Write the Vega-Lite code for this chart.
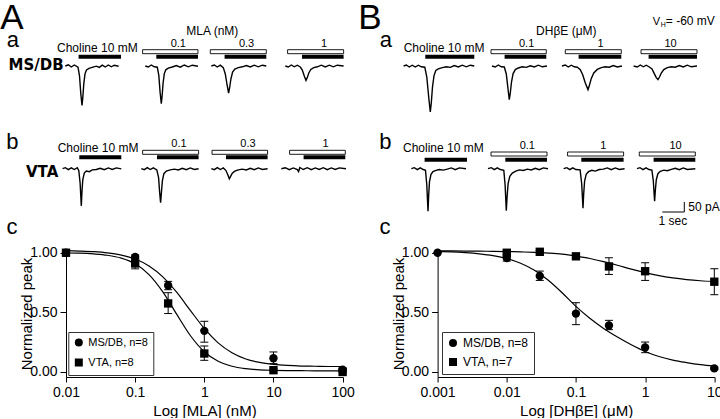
{
"$schema":"https://vega.github.io/schema/vega-lite/v6.json",
"padding":0,
"background":"white",
"config":{"view":{"stroke":null},"text":{"font":"Liberation Sans","color":"black","baseline":"alphabetic"},
"axis":{"domainColor":"black","tickColor":"black","labelColor":"black","titleColor":"black","grid":false,"labelFont":"Liberation Sans","titleFont":"Liberation Sans","labelFontSize":14,"titleFontSize":15,"titleFontWeight":"normal","tickSize":5}},
"resolve":{"scale":{"shape":"independent"},"legend":{"shape":"independent"}},
"datasets":{
"tAa":[{"tr":1,"t":2.955,"i":0},{"tr":1,"t":3.091,"i":6},{"tr":1,"t":3.227,"i":-5},{"tr":1,"t":3.364,"i":5},{"tr":1,"t":3.532,"i":-6},{"tr":1,"t":3.6,"i":-49},{"tr":1,"t":3.659,"i":-138},{"tr":1,"t":3.714,"i":-197},{"tr":1,"t":3.75,"i":-158},{"tr":1,"t":3.795,"i":-89},{"tr":1,"t":3.85,"i":-39},{"tr":1,"t":3.918,"i":-20},{"tr":1,"t":4.032,"i":-12},{"tr":1,"t":4.214,"i":-6},{"tr":1,"t":4.364,"i":-1},{"tr":1,"t":4.5,"i":-7},{"tr":1,"t":4.636,"i":4},{"tr":1,"t":4.773,"i":-5},{"tr":1,"t":4.909,"i":5},{"tr":1,"t":5.045,"i":-4},{"tr":1,"t":5.182,"i":4},{"tr":1,"t":5.377,"i":-1},
{"tr":2,"t":6.591,"i":0},{"tr":2,"t":6.727,"i":-5},{"tr":2,"t":6.864,"i":5},{"tr":2,"t":7.0,"i":-4},{"tr":2,"t":7.136,"i":-6},{"tr":2,"t":7.205,"i":-47},{"tr":2,"t":7.264,"i":-132},{"tr":2,"t":7.318,"i":-188},{"tr":2,"t":7.355,"i":-150},{"tr":2,"t":7.4,"i":-85},{"tr":2,"t":7.455,"i":-38},{"tr":2,"t":7.523,"i":-19},{"tr":2,"t":7.636,"i":-11},{"tr":2,"t":7.818,"i":-5},{"tr":2,"t":8.0,"i":2},{"tr":2,"t":8.182,"i":-6},{"tr":2,"t":8.364,"i":5},{"tr":2,"t":8.545,"i":-4},{"tr":2,"t":8.727,"i":4},{"tr":2,"t":8.986,"i":-1},
{"tr":3,"t":9.591,"i":0},{"tr":3,"t":9.727,"i":5},{"tr":3,"t":9.864,"i":-5},{"tr":3,"t":10.0,"i":4},{"tr":3,"t":10.136,"i":-8},{"tr":3,"t":10.227,"i":-40},{"tr":3,"t":10.309,"i":-95},{"tr":3,"t":10.377,"i":-135},{"tr":3,"t":10.423,"i":-110},{"tr":3,"t":10.482,"i":-65},{"tr":3,"t":10.559,"i":-30},{"tr":3,"t":10.659,"i":-15},{"tr":3,"t":10.818,"i":-8},{"tr":3,"t":11.0,"i":-4},{"tr":3,"t":11.182,"i":2},{"tr":3,"t":11.364,"i":-5},{"tr":3,"t":11.545,"i":4},{"tr":3,"t":11.727,"i":-4},{"tr":3,"t":11.909,"i":4},{"tr":3,"t":12.091,"i":0},
{"tr":4,"t":12.955,"i":0},{"tr":4,"t":13.091,"i":-5},{"tr":4,"t":13.227,"i":5},{"tr":4,"t":13.364,"i":-4},{"tr":4,"t":13.5,"i":4},{"tr":4,"t":13.636,"i":-5},{"tr":4,"t":13.727,"i":-20},{"tr":4,"t":13.818,"i":-50},{"tr":4,"t":13.895,"i":-72},{"tr":4,"t":13.955,"i":-58},{"tr":4,"t":14.023,"i":-35},{"tr":4,"t":14.114,"i":-17},{"tr":4,"t":14.25,"i":-8},{"tr":4,"t":14.409,"i":-4},{"tr":4,"t":14.591,"i":4},{"tr":4,"t":14.773,"i":-5},{"tr":4,"t":14.955,"i":4},{"tr":4,"t":15.136,"i":-4},{"tr":4,"t":15.318,"i":4},{"tr":4,"t":15.605,"i":0}],
"tAb":[{"tr":1,"t":2.832,"i":0},{"tr":1,"t":2.955,"i":5},{"tr":1,"t":3.091,"i":-5},{"tr":1,"t":3.227,"i":4},{"tr":1,"t":3.364,"i":-4},{"tr":1,"t":3.5,"i":5},{"tr":1,"t":3.568,"i":-10},{"tr":1,"t":3.627,"i":-70},{"tr":1,"t":3.682,"i":-186},{"tr":1,"t":3.714,"i":-110},{"tr":1,"t":3.75,"i":-55},{"tr":1,"t":3.818,"i":-22},{"tr":1,"t":3.909,"i":-12},{"tr":1,"t":4.045,"i":-15},{"tr":1,"t":4.182,"i":-6},{"tr":1,"t":4.364,"i":-4},{"tr":1,"t":4.545,"i":2},{"tr":1,"t":4.727,"i":-5},{"tr":1,"t":4.909,"i":4},{"tr":1,"t":5.091,"i":-4},{"tr":1,"t":5.273,"i":4},{"tr":1,"t":5.5,"i":-1},
{"tr":2,"t":6.409,"i":0},{"tr":2,"t":6.545,"i":-5},{"tr":2,"t":6.682,"i":5},{"tr":2,"t":6.818,"i":-4},{"tr":2,"t":6.955,"i":4},{"tr":2,"t":7.114,"i":-6},{"tr":2,"t":7.195,"i":-45},{"tr":2,"t":7.241,"i":-115},{"tr":2,"t":7.286,"i":-170},{"tr":2,"t":7.323,"i":-120},{"tr":2,"t":7.368,"i":-60},{"tr":2,"t":7.436,"i":-25},{"tr":2,"t":7.545,"i":-12},{"tr":2,"t":7.727,"i":-6},{"tr":2,"t":7.909,"i":-2},{"tr":2,"t":8.091,"i":-6},{"tr":2,"t":8.273,"i":2},{"tr":2,"t":8.455,"i":-5},{"tr":2,"t":8.636,"i":4},{"tr":2,"t":8.818,"i":-4},{"tr":2,"t":9.014,"i":0},
{"tr":3,"t":9.591,"i":0},{"tr":3,"t":9.727,"i":-5},{"tr":3,"t":9.864,"i":5},{"tr":3,"t":10.0,"i":-4},{"tr":3,"t":10.136,"i":4},{"tr":3,"t":10.25,"i":-8},{"tr":3,"t":10.341,"i":-30},{"tr":3,"t":10.409,"i":-50},{"tr":3,"t":10.468,"i":-38},{"tr":3,"t":10.545,"i":-22},{"tr":3,"t":10.659,"i":-12},{"tr":3,"t":10.818,"i":-6},{"tr":3,"t":11.0,"i":-2},{"tr":3,"t":11.182,"i":-6},{"tr":3,"t":11.364,"i":2},{"tr":3,"t":11.545,"i":-5},{"tr":3,"t":11.727,"i":4},{"tr":3,"t":11.909,"i":-4},{"tr":3,"t":12.15,"i":0},
{"tr":4,"t":12.773,"i":0},{"tr":4,"t":12.955,"i":5},{"tr":4,"t":13.136,"i":-5},{"tr":4,"t":13.318,"i":4},{"tr":4,"t":13.5,"i":-4},{"tr":4,"t":13.559,"i":-14},{"tr":4,"t":13.614,"i":6},{"tr":4,"t":13.773,"i":-4},{"tr":4,"t":13.955,"i":5},{"tr":4,"t":14.136,"i":-5},{"tr":4,"t":14.318,"i":4},{"tr":4,"t":14.5,"i":-4},{"tr":4,"t":14.682,"i":5},{"tr":4,"t":14.864,"i":-5},{"tr":4,"t":15.045,"i":4},{"tr":4,"t":15.227,"i":-4},{"tr":4,"t":15.409,"i":4},{"tr":4,"t":15.714,"i":0}],
"tBa":[{"tr":1,"t":18.332,"i":0},{"tr":1,"t":18.455,"i":5},{"tr":1,"t":18.591,"i":-5},{"tr":1,"t":18.727,"i":4},{"tr":1,"t":18.864,"i":-5},{"tr":1,"t":19.0,"i":4},{"tr":1,"t":19.136,"i":-4},{"tr":1,"t":19.295,"i":-6},{"tr":1,"t":19.386,"i":-55},{"tr":1,"t":19.477,"i":-160},{"tr":1,"t":19.545,"i":-230},{"tr":1,"t":19.591,"i":-185},{"tr":1,"t":19.645,"i":-105},{"tr":1,"t":19.714,"i":-48},{"tr":1,"t":19.795,"i":-22},{"tr":1,"t":19.909,"i":-14},{"tr":1,"t":20.091,"i":-8},{"tr":1,"t":20.273,"i":-4},{"tr":1,"t":20.455,"i":-7},{"tr":1,"t":20.636,"i":2},{"tr":1,"t":20.818,"i":-5},{"tr":1,"t":21.0,"i":4},{"tr":1,"t":21.182,"i":-4},{"tr":1,"t":21.364,"i":4},{"tr":1,"t":21.545,"i":0},
{"tr":2,"t":22.35,"i":0},{"tr":2,"t":22.5,"i":-5},{"tr":2,"t":22.636,"i":5},{"tr":2,"t":22.773,"i":-4},{"tr":2,"t":22.909,"i":-5},{"tr":2,"t":23.0,"i":-40},{"tr":2,"t":23.073,"i":-110},{"tr":2,"t":23.136,"i":-168},{"tr":2,"t":23.182,"i":-135},{"tr":2,"t":23.236,"i":-80},{"tr":2,"t":23.309,"i":-38},{"tr":2,"t":23.409,"i":-18},{"tr":2,"t":23.545,"i":-10},{"tr":2,"t":23.727,"i":-4},{"tr":2,"t":23.909,"i":-7},{"tr":2,"t":24.091,"i":1},{"tr":2,"t":24.273,"i":-5},{"tr":2,"t":24.455,"i":4},{"tr":2,"t":24.636,"i":-4},{"tr":2,"t":24.85,"i":0},
{"tr":3,"t":25.532,"i":0},{"tr":3,"t":25.682,"i":5},{"tr":3,"t":25.818,"i":-5},{"tr":3,"t":25.955,"i":4},{"tr":3,"t":26.091,"i":-4},{"tr":3,"t":26.227,"i":-6},{"tr":3,"t":26.364,"i":-18},{"tr":3,"t":26.477,"i":-45},{"tr":3,"t":26.591,"i":-85},{"tr":3,"t":26.714,"i":-118},{"tr":3,"t":26.782,"i":-95},{"tr":3,"t":26.864,"i":-62},{"tr":3,"t":26.977,"i":-35},{"tr":3,"t":27.136,"i":-17},{"tr":3,"t":27.318,"i":-8},{"tr":3,"t":27.5,"i":-4},{"tr":3,"t":27.682,"i":-6},{"tr":3,"t":27.864,"i":2},{"tr":3,"t":28.045,"i":-5},{"tr":3,"t":28.259,"i":0},
{"tr":4,"t":28.786,"i":0},{"tr":4,"t":28.955,"i":-5},{"tr":4,"t":29.091,"i":5},{"tr":4,"t":29.227,"i":-4},{"tr":4,"t":29.364,"i":4},{"tr":4,"t":29.5,"i":-5},{"tr":4,"t":29.623,"i":-15},{"tr":4,"t":29.727,"i":-38},{"tr":4,"t":29.818,"i":-58},{"tr":4,"t":29.895,"i":-68},{"tr":4,"t":29.964,"i":-55},{"tr":4,"t":30.045,"i":-35},{"tr":4,"t":30.159,"i":-18},{"tr":4,"t":30.318,"i":-8},{"tr":4,"t":30.5,"i":-4},{"tr":4,"t":30.682,"i":-6},{"tr":4,"t":30.864,"i":2},{"tr":4,"t":31.045,"i":-5},{"tr":4,"t":31.227,"i":4},{"tr":4,"t":31.409,"i":-4},{"tr":4,"t":31.668,"i":0}],
"tBb":[{"tr":1,"t":18.682,"i":0},{"tr":1,"t":18.818,"i":5},{"tr":1,"t":18.955,"i":-5},{"tr":1,"t":19.091,"i":4},{"tr":1,"t":19.227,"i":-4},{"tr":1,"t":19.327,"i":-8},{"tr":1,"t":19.386,"i":-80},{"tr":1,"t":19.441,"i":-212},{"tr":1,"t":19.473,"i":-130},{"tr":1,"t":19.509,"i":-65},{"tr":1,"t":19.577,"i":-28},{"tr":1,"t":19.668,"i":-14},{"tr":1,"t":19.805,"i":-8},{"tr":1,"t":19.955,"i":-4},{"tr":1,"t":20.136,"i":-7},{"tr":1,"t":20.318,"i":-2},{"tr":1,"t":20.5,"i":4},{"tr":1,"t":20.682,"i":-5},{"tr":1,"t":20.864,"i":4},{"tr":1,"t":21.168,"i":0},
{"tr":2,"t":22.168,"i":0},{"tr":2,"t":22.318,"i":5},{"tr":2,"t":22.455,"i":-5},{"tr":2,"t":22.591,"i":4},{"tr":2,"t":22.727,"i":-4},{"tr":2,"t":22.886,"i":-8},{"tr":2,"t":22.945,"i":-80},{"tr":2,"t":23.0,"i":-210},{"tr":2,"t":23.036,"i":-140},{"tr":2,"t":23.082,"i":-75},{"tr":2,"t":23.159,"i":-38},{"tr":2,"t":23.273,"i":-22},{"tr":2,"t":23.432,"i":-12},{"tr":2,"t":23.591,"i":-6},{"tr":2,"t":23.773,"i":-9},{"tr":2,"t":23.955,"i":-2},{"tr":2,"t":24.136,"i":-6},{"tr":2,"t":24.318,"i":2},{"tr":2,"t":24.5,"i":-5},{"tr":2,"t":24.682,"i":4},{"tr":2,"t":24.895,"i":0},
{"tr":3,"t":25.605,"i":0},{"tr":3,"t":25.75,"i":5},{"tr":3,"t":25.886,"i":-5},{"tr":3,"t":26.023,"i":4},{"tr":3,"t":26.159,"i":-4},{"tr":3,"t":26.355,"i":-6},{"tr":3,"t":26.427,"i":-75},{"tr":3,"t":26.486,"i":-197},{"tr":3,"t":26.518,"i":-125},{"tr":3,"t":26.559,"i":-62},{"tr":3,"t":26.632,"i":-28},{"tr":3,"t":26.736,"i":-15},{"tr":3,"t":26.886,"i":-8},{"tr":3,"t":27.045,"i":-12},{"tr":3,"t":27.227,"i":-4},{"tr":3,"t":27.409,"i":-2},{"tr":3,"t":27.591,"i":4},{"tr":3,"t":27.773,"i":-5},{"tr":3,"t":27.955,"i":4},{"tr":3,"t":28.136,"i":-4},{"tr":3,"t":28.377,"i":0},
{"tr":4,"t":28.941,"i":0},{"tr":4,"t":29.077,"i":5},{"tr":4,"t":29.214,"i":-5},{"tr":4,"t":29.35,"i":4},{"tr":4,"t":29.486,"i":-4},{"tr":4,"t":29.618,"i":-7},{"tr":4,"t":29.682,"i":-60},{"tr":4,"t":29.741,"i":-163},{"tr":4,"t":29.777,"i":-105},{"tr":4,"t":29.818,"i":-55},{"tr":4,"t":29.891,"i":-25},{"tr":4,"t":30.0,"i":-13},{"tr":4,"t":30.159,"i":-7},{"tr":4,"t":30.318,"i":-10},{"tr":4,"t":30.5,"i":-3},{"tr":4,"t":30.682,"i":2},{"tr":4,"t":30.864,"i":-5},{"tr":4,"t":31.045,"i":4},{"tr":4,"t":31.227,"i":-4},{"tr":4,"t":31.591,"i":0}],
"bAa":[{"on":3.559,"off":5.486,"pre":null,"label":"Choline 10 mM"},{"on":7.091,"off":8.986,"pre":6.468,"label":"0.1"},{"on":10.195,"off":12.091,"pre":9.545,"label":"0.3"},{"on":13.714,"off":15.605,"pre":13.059,"label":"1"}],
"bAb":[{"on":3.591,"off":5.5,"pre":null,"label":"Choline 10 mM"},{"on":7.123,"off":9.014,"pre":6.468,"label":"0.1"},{"on":10.259,"off":12.15,"pre":9.623,"label":"0.3"},{"on":13.786,"off":15.682,"pre":13.15,"label":"1"}],
"bBa":[{"on":19.318,"off":21.545,"pre":null,"label":"Choline 10 mM"},{"on":22.923,"off":24.818,"pre":22.305,"label":"0.1"},{"on":26.286,"off":28.227,"pre":25.682,"label":"1"},{"on":29.468,"off":31.668,"pre":29.123,"label":"10"}],
"bBb":[{"on":19.286,"off":21.214,"pre":null,"label":"Choline 10 mM"},{"on":22.955,"off":24.85,"pre":22.305,"label":"0.1"},{"on":26.409,"off":28.332,"pre":25.786,"label":"1"},{"on":29.695,"off":31.591,"pre":29.045,"label":"10"}],
"curveMLA":[{"g":"MS/DB, n=8","c":0.01,"v":1.017},{"g":"MS/DB, n=8","c":0.01585,"v":1.014},{"g":"MS/DB, n=8","c":0.02512,"v":1.009},{"g":"MS/DB, n=8","c":0.03981,"v":0.999},{"g":"MS/DB, n=8","c":0.0631,"v":0.98},{"g":"MS/DB, n=8","c":0.1,"v":0.947},{"g":"MS/DB, n=8","c":0.1585,"v":0.889},{"g":"MS/DB, n=8","c":0.2512,"v":0.798},{"g":"MS/DB, n=8","c":0.3981,"v":0.669},{"g":"MS/DB, n=8","c":0.631,"v":0.515},{"g":"MS/DB, n=8","c":1,"v":0.365},{"g":"MS/DB, n=8","c":1.585,"v":0.244},{"g":"MS/DB, n=8","c":2.512,"v":0.161},{"g":"MS/DB, n=8","c":3.981,"v":0.109},{"g":"MS/DB, n=8","c":6.31,"v":0.08},{"g":"MS/DB, n=8","c":10,"v":0.064},{"g":"MS/DB, n=8","c":15.85,"v":0.055},{"g":"MS/DB, n=8","c":25.12,"v":0.05},{"g":"MS/DB, n=8","c":39.81,"v":0.048},{"g":"MS/DB, n=8","c":63.1,"v":0.046},{"g":"MS/DB, n=8","c":100,"v":0.046},
{"g":"VTA, n=8","c":0.01,"v":0.998},{"g":"VTA, n=8","c":0.01585,"v":0.996},{"g":"VTA, n=8","c":0.02512,"v":0.99},{"g":"VTA, n=8","c":0.03981,"v":0.979},{"g":"VTA, n=8","c":0.0631,"v":0.955},{"g":"VTA, n=8","c":0.1,"v":0.907},{"g":"VTA, n=8","c":0.1585,"v":0.817},{"g":"VTA, n=8","c":0.2512,"v":0.672},{"g":"VTA, n=8","c":0.3981,"v":0.485},{"g":"VTA, n=8","c":0.631,"v":0.304},{"g":"VTA, n=8","c":1,"v":0.17},{"g":"VTA, n=8","c":1.585,"v":0.09},{"g":"VTA, n=8","c":2.512,"v":0.048},{"g":"VTA, n=8","c":3.981,"v":0.028},{"g":"VTA, n=8","c":6.31,"v":0.018},{"g":"VTA, n=8","c":10,"v":0.014},{"g":"VTA, n=8","c":15.85,"v":0.012},{"g":"VTA, n=8","c":25.12,"v":0.011},{"g":"VTA, n=8","c":39.81,"v":0.01},{"g":"VTA, n=8","c":63.1,"v":0.01},{"g":"VTA, n=8","c":100,"v":0.01}],
"ptsMLA":[{"g":"MS/DB, n=8","c":0.01,"v":1,"lo":1,"hi":1},{"g":"MS/DB, n=8","c":0.1,"v":0.965,"lo":0.948,"hi":0.982},{"g":"MS/DB, n=8","c":0.3,"v":0.725,"lo":0.69,"hi":0.76},{"g":"MS/DB, n=8","c":1,"v":0.345,"lo":0.25,"hi":0.425},{"g":"MS/DB, n=8","c":10,"v":0.115,"lo":0.07,"hi":0.168},{"g":"MS/DB, n=8","c":100,"v":0.02,"lo":0.008,"hi":0.035},
{"g":"VTA, n=8","c":0.01,"v":1,"lo":1,"hi":1},{"g":"VTA, n=8","c":0.1,"v":0.91,"lo":0.865,"hi":0.95},{"g":"VTA, n=8","c":0.3,"v":0.575,"lo":0.49,"hi":0.665},{"g":"VTA, n=8","c":1,"v":0.155,"lo":0.098,"hi":0.218},{"g":"VTA, n=8","c":10,"v":0.015,"lo":0.008,"hi":0.025},{"g":"VTA, n=8","c":100,"v":0.0,"lo":-0.005,"hi":0.005}],
"curveDH":[{"g":"MS/DB, n=8","c":0.001,"v":1.012},{"g":"MS/DB, n=8","c":0.001585,"v":1.008},{"g":"MS/DB, n=8","c":0.002512,"v":1.001},{"g":"MS/DB, n=8","c":0.003981,"v":0.991},{"g":"MS/DB, n=8","c":0.00631,"v":0.976},{"g":"MS/DB, n=8","c":0.01,"v":0.952},{"g":"MS/DB, n=8","c":0.01585,"v":0.912},{"g":"MS/DB, n=8","c":0.02512,"v":0.853},{"g":"MS/DB, n=8","c":0.03981,"v":0.77},{"g":"MS/DB, n=8","c":0.0631,"v":0.665},{"g":"MS/DB, n=8","c":0.1,"v":0.55},{"g":"MS/DB, n=8","c":0.1585,"v":0.45},{"g":"MS/DB, n=8","c":0.2512,"v":0.365},{"g":"MS/DB, n=8","c":0.3981,"v":0.293},{"g":"MS/DB, n=8","c":0.631,"v":0.228},{"g":"MS/DB, n=8","c":1,"v":0.172},{"g":"MS/DB, n=8","c":1.585,"v":0.13},{"g":"MS/DB, n=8","c":2.512,"v":0.1},{"g":"MS/DB, n=8","c":3.981,"v":0.079},{"g":"MS/DB, n=8","c":6.31,"v":0.062},{"g":"MS/DB, n=8","c":10,"v":0.05},
{"g":"VTA, n=7","c":0.001,"v":1.015},{"g":"VTA, n=7","c":0.001585,"v":1.015},{"g":"VTA, n=7","c":0.002512,"v":1.014},{"g":"VTA, n=7","c":0.003981,"v":1.013},{"g":"VTA, n=7","c":0.00631,"v":1.012},{"g":"VTA, n=7","c":0.01,"v":1.01},{"g":"VTA, n=7","c":0.01585,"v":1.007},{"g":"VTA, n=7","c":0.02512,"v":1.003},{"g":"VTA, n=7","c":0.03981,"v":0.997},{"g":"VTA, n=7","c":0.0631,"v":0.988},{"g":"VTA, n=7","c":0.1,"v":0.972},{"g":"VTA, n=7","c":0.1585,"v":0.952},{"g":"VTA, n=7","c":0.2512,"v":0.925},{"g":"VTA, n=7","c":0.3981,"v":0.895},{"g":"VTA, n=7","c":0.631,"v":0.862},{"g":"VTA, n=7","c":1,"v":0.833},{"g":"VTA, n=7","c":1.585,"v":0.808},{"g":"VTA, n=7","c":2.512,"v":0.789},{"g":"VTA, n=7","c":3.981,"v":0.775},{"g":"VTA, n=7","c":6.31,"v":0.765},{"g":"VTA, n=7","c":10,"v":0.758}],
"ptsDH":[{"g":"MS/DB, n=8","c":0.001,"v":1,"lo":1,"hi":1},{"g":"MS/DB, n=8","c":0.01,"v":0.955,"lo":0.93,"hi":0.98},{"g":"MS/DB, n=8","c":0.03,"v":0.805,"lo":0.768,"hi":0.846},{"g":"MS/DB, n=8","c":0.1,"v":0.49,"lo":0.397,"hi":0.581},{"g":"MS/DB, n=8","c":0.3,"v":0.39,"lo":0.355,"hi":0.433},{"g":"MS/DB, n=8","c":1,"v":0.205,"lo":0.162,"hi":0.251},{"g":"MS/DB, n=8","c":10,"v":0.03,"lo":0.02,"hi":0.04},
{"g":"VTA, n=7","c":0.01,"v":1.0,"lo":0.985,"hi":1.015},{"g":"VTA, n=7","c":0.03,"v":1.008,"lo":0.998,"hi":1.018},{"g":"VTA, n=7","c":0.1,"v":0.97,"lo":0.955,"hi":0.985},{"g":"VTA, n=7","c":0.3,"v":0.885,"lo":0.818,"hi":0.958},{"g":"VTA, n=7","c":1,"v":0.845,"lo":0.768,"hi":0.916},{"g":"VTA, n=7","c":10,"v":0.757,"lo":0.648,"hi":0.866}]
},
"columns":2,
"bounds":"flush",
"spacing":{"row":0,"column":94.6},
"concat":[
{"width":277,"height":120,"layer":[
{"data":{"name":"tAa"},"mark":{"type":"line","color":"black","strokeWidth":1.4},"encoding":{"x":{"field":"t","type":"quantitative","scale":{"domain":[2.98636,15.57727],"nice":false,"zero":false},"axis":null},"y":{"field":"i","type":"quantitative","scale":{"domain":[-280,320],"nice":false,"zero":false},"axis":null},"detail":{"field":"tr","type":"nominal"}}},
{"data":{"name":"bAa"},"transform":[{"filter":"datum.pre != null"}],"mark":{"type":"rect","fill":"white","stroke":"black","strokeWidth":0.9},"encoding":{"x":{"field":"pre","type":"quantitative","axis":null},"x2":{"field":"off"},"y":{"datum":81.5,"axis":null},"y2":{"datum":61.5}}},
{"data":{"name":"bAa"},"mark":{"type":"rect","fill":"black"},"encoding":{"x":{"field":"on","type":"quantitative","axis":null},"x2":{"field":"off"},"y":{"datum":56.5,"axis":null},"y2":{"datum":36.5}}},
{"data":{"name":"bAa"},"transform":[{"filter":"datum.pre == null"}],"mark":{"type":"text","align":"left","dx":-21.6,"fontSize":12},"encoding":{"x":{"field":"on","type":"quantitative","axis":null},"y":{"datum":72.5,"axis":null},"text":{"field":"label"}}},
{"data":{"name":"bAa"},"transform":[{"filter":"datum.pre != null"}],"mark":{"type":"text","align":"center","dx":22,"fontSize":11},"encoding":{"x":{"field":"on","type":"quantitative","axis":null},"y":{"datum":95,"axis":null},"text":{"field":"label"}}},
{"data":{"values":[{}]},"mark":{"type":"text","text":"A","fontSize":35,"align":"left"},"encoding":{"x":{"datum":0,"axis":null},"y":{"datum":186.5,"axis":null}}},
{"data":{"values":[{}]},"mark":{"type":"text","text":"a","fontSize":22,"align":"left"},"encoding":{"x":{"datum":0.295,"axis":null},"y":{"datum":95,"axis":null}}},
{"data":{"values":[{}]},"mark":{"type":"text","text":"MS/DB","fontSize":15,"font":"DejaVu Sans","fontWeight":"bold","align":"right"},"encoding":{"x":{"datum":2.877,"axis":null},"y":{"datum":-21.5,"axis":null}}},
{"data":{"values":[{}]},"mark":{"type":"text","text":"MLA (nM)","fontSize":12,"align":"center"},"encoding":{"x":{"datum":9.636,"axis":null},"y":{"datum":155,"axis":null}}}
]},
{"width":277,"height":120,"layer":[
{"data":{"name":"tBa"},"mark":{"type":"line","color":"black","strokeWidth":1.4},"encoding":{"x":{"field":"t","type":"quantitative","scale":{"domain":[19.87727,32.46818],"nice":false,"zero":false},"axis":null},"y":{"field":"i","type":"quantitative","scale":{"domain":[-280,320],"nice":false,"zero":false},"axis":null},"detail":{"field":"tr","type":"nominal"}}},
{"data":{"name":"bBa"},"transform":[{"filter":"datum.pre != null"}],"mark":{"type":"rect","fill":"white","stroke":"black","strokeWidth":0.9},"encoding":{"x":{"field":"pre","type":"quantitative","axis":null},"x2":{"field":"off"},"y":{"datum":81.5,"axis":null},"y2":{"datum":61.5}}},
{"data":{"name":"bBa"},"mark":{"type":"rect","fill":"black"},"encoding":{"x":{"field":"on","type":"quantitative","axis":null},"x2":{"field":"off"},"y":{"datum":56.5,"axis":null},"y2":{"datum":36.5}}},
{"data":{"name":"bBa"},"transform":[{"filter":"datum.pre == null"}],"mark":{"type":"text","align":"left","dx":-21.6,"fontSize":12},"encoding":{"x":{"field":"on","type":"quantitative","axis":null},"y":{"datum":70,"axis":null},"text":{"field":"label"}}},
{"data":{"name":"bBa"},"transform":[{"filter":"datum.pre != null"}],"mark":{"type":"text","align":"center","dx":22,"fontSize":11},"encoding":{"x":{"field":"on","type":"quantitative","axis":null},"y":{"datum":95,"axis":null},"text":{"field":"label"}}},
{"data":{"values":[{}]},"mark":{"type":"text","text":"B","fontSize":35,"align":"left"},"encoding":{"x":{"datum":16.273,"axis":null},"y":{"datum":186.5,"axis":null}}},
{"data":{"values":[{}]},"mark":{"type":"text","text":"a","fontSize":22,"align":"left"},"encoding":{"x":{"datum":17.25,"axis":null},"y":{"datum":95,"axis":null}}},
{"data":{"values":[{}]},"mark":{"type":"text","text":"DHβE (μM)","fontSize":12,"align":"center"},"encoding":{"x":{"datum":25.727,"axis":null},"y":{"datum":155,"axis":null}}},
{"data":{"values":[{}]},"mark":{"type":"text","text":"V","fontSize":11,"align":"left"},"encoding":{"x":{"datum":29.66,"axis":null},"y":{"datum":205,"axis":null}}},
{"data":{"values":[{}]},"mark":{"type":"text","text":"H","fontSize":7,"align":"left"},"encoding":{"x":{"datum":30.018,"axis":null},"y":{"datum":195,"axis":null}}},
{"data":{"values":[{}]},"mark":{"type":"text","text":"= -60 mV","fontSize":12,"align":"left"},"encoding":{"x":{"datum":30.25,"axis":null},"y":{"datum":205,"axis":null}}}
]},
{"width":277,"height":128,"layer":[
{"data":{"name":"tAb"},"mark":{"type":"line","color":"black","strokeWidth":1.4},"encoding":{"x":{"field":"t","type":"quantitative","scale":{"domain":[2.98636,15.57727],"nice":false,"zero":false},"axis":null},"y":{"field":"i","type":"quantitative","scale":{"domain":[-406.5,233.5],"nice":false,"zero":false},"axis":null},"detail":{"field":"tr","type":"nominal"}}},
{"data":{"name":"bAb"},"transform":[{"filter":"datum.pre != null"}],"mark":{"type":"rect","fill":"white","stroke":"black","strokeWidth":0.9},"encoding":{"x":{"field":"pre","type":"quantitative","axis":null},"x2":{"field":"off"},"y":{"datum":92,"axis":null},"y2":{"datum":72}}},
{"data":{"name":"bAb"},"mark":{"type":"rect","fill":"black"},"encoding":{"x":{"field":"on","type":"quantitative","axis":null},"x2":{"field":"off"},"y":{"datum":67,"axis":null},"y2":{"datum":47}}},
{"data":{"name":"bAb"},"transform":[{"filter":"datum.pre == null"}],"mark":{"type":"text","align":"left","dx":-21.6,"fontSize":12},"encoding":{"x":{"field":"on","type":"quantitative","axis":null},"y":{"datum":83.5,"axis":null},"text":{"field":"label"}}},
{"data":{"name":"bAb"},"transform":[{"filter":"datum.pre != null"}],"mark":{"type":"text","align":"center","dx":22,"fontSize":11},"encoding":{"x":{"field":"on","type":"quantitative","axis":null},"y":{"datum":108.5,"axis":null},"text":{"field":"label"}}},
{"data":{"values":[{}]},"mark":{"type":"text","text":"b","fontSize":22,"align":"left"},"encoding":{"x":{"datum":0.273,"axis":null},"y":{"datum":98.5,"axis":null}}},
{"data":{"values":[{}]},"mark":{"type":"text","text":"VTA","fontSize":15,"font":"DejaVu Sans","fontWeight":"bold","align":"right"},"encoding":{"x":{"datum":2.636,"axis":null},"y":{"datum":-41.5,"axis":null}}},
{"data":{"values":[{}]},"mark":{"type":"text","text":"c","fontSize":22,"align":"left"},"encoding":{"x":{"datum":0.286,"axis":null},"y":{"datum":-326.5,"axis":null}}}
]},
{"width":277,"height":128,"layer":[
{"data":{"name":"tBb"},"mark":{"type":"line","color":"black","strokeWidth":1.4},"encoding":{"x":{"field":"t","type":"quantitative","scale":{"domain":[19.87727,32.46818],"nice":false,"zero":false},"axis":null},"y":{"field":"i","type":"quantitative","scale":{"domain":[-406.5,233.5],"nice":false,"zero":false},"axis":null},"detail":{"field":"tr","type":"nominal"}}},
{"data":{"name":"bBb"},"transform":[{"filter":"datum.pre != null"}],"mark":{"type":"rect","fill":"white","stroke":"black","strokeWidth":0.9},"encoding":{"x":{"field":"pre","type":"quantitative","axis":null},"x2":{"field":"off"},"y":{"datum":83.5,"axis":null},"y2":{"datum":63.5}}},
{"data":{"name":"bBb"},"mark":{"type":"rect","fill":"black"},"encoding":{"x":{"field":"on","type":"quantitative","axis":null},"x2":{"field":"off"},"y":{"datum":55,"axis":null},"y2":{"datum":35}}},
{"data":{"name":"bBb"},"transform":[{"filter":"datum.pre == null"}],"mark":{"type":"text","align":"left","dx":-21.6,"fontSize":12},"encoding":{"x":{"field":"on","type":"quantitative","axis":null},"y":{"datum":83.5,"axis":null},"text":{"field":"label"}}},
{"data":{"name":"bBb"},"transform":[{"filter":"datum.pre != null"}],"mark":{"type":"text","align":"center","dx":22,"fontSize":11},"encoding":{"x":{"field":"on","type":"quantitative","axis":null},"y":{"datum":100,"axis":null},"text":{"field":"label"}}},
{"data":{"values":[{}]},"mark":{"type":"text","text":"b","fontSize":22,"align":"left"},"encoding":{"x":{"datum":17.227,"axis":null},"y":{"datum":98.5,"axis":null}}},
{"data":{"values":[{}]},"mark":{"type":"text","text":"c","fontSize":22,"align":"left"},"encoding":{"x":{"datum":17.241,"axis":null},"y":{"datum":-326.5,"axis":null}}},
{"data":{"values":[{}]},"mark":{"type":"rule","color":"black","strokeWidth":1},"encoding":{"x":{"datum":31.091,"axis":null},"y":{"datum":-166.5,"axis":null},"y2":{"datum":-216.5}}},
{"data":{"values":[{}]},"mark":{"type":"rule","color":"black","strokeWidth":1},"encoding":{"x":{"datum":30.091,"axis":null},"x2":{"datum":31.091},"y":{"datum":-216.5,"axis":null}}},
{"data":{"values":[{}]},"mark":{"type":"text","text":"50 pA","fontSize":12,"align":"left"},"encoding":{"x":{"datum":31.273,"axis":null},"y":{"datum":-211.5,"axis":null}}},
{"data":{"values":[{}]},"mark":{"type":"text","text":"1 sec","fontSize":12,"align":"center"},"encoding":{"x":{"datum":30.568,"axis":null},"y":{"datum":-281.5,"axis":null}}}
]},
{"width":277,"height":127,"layer":[
{"data":{"name":"curveMLA"},"mark":{"type":"line","color":"black","strokeWidth":1.2,"interpolate":"monotone"},"encoding":{"x":{"field":"c","type":"quantitative","scale":{"type":"log","domain":[0.01,101.3],"nice":false},"axis":{"values":[0.01,0.1,1,10,100],"format":"~g","labelFlush":false,"labelPadding":3,"title":"Log [MLA] (nM)","titlePadding":4}},"y":{"field":"v","type":"quantitative","scale":{"domain":[-0.042,1.023],"nice":false,"zero":false},"axis":{"values":[0,0.25,0.5,0.75,1],"format":".2f","tickSize":6,"labelPadding":3,"title":"Normalized peak","titlePadding":-5}},"detail":{"field":"g","type":"nominal"}}},
{"data":{"name":"ptsMLA"},"mark":{"type":"rule","color":"black","strokeWidth":1},"encoding":{"x":{"field":"c","type":"quantitative"},"y":{"field":"lo","type":"quantitative"},"y2":{"field":"hi"}}},
{"data":{"name":"ptsMLA"},"mark":{"type":"point","shape":"stroke","color":"black","size":64,"strokeWidth":1,"opacity":1},"encoding":{"x":{"field":"c","type":"quantitative"},"y":{"field":"lo","type":"quantitative"}}},
{"data":{"name":"ptsMLA"},"mark":{"type":"point","shape":"stroke","color":"black","size":64,"strokeWidth":1,"opacity":1},"encoding":{"x":{"field":"c","type":"quantitative"},"y":{"field":"hi","type":"quantitative"}}},
{"data":{"name":"ptsMLA"},"mark":{"type":"point","filled":true,"color":"black","size":70,"opacity":1},"encoding":{"x":{"field":"c","type":"quantitative"},"y":{"field":"v","type":"quantitative"},"shape":{"field":"g","type":"nominal","scale":{"domain":["MS/DB, n=8","VTA, n=8"],"range":["circle","square"]},"legend":{"title":null,"orient":"none","legendX":2.3,"legendY":82,"strokeColor":"#333","fillColor":"white","padding":5,"labelFontSize":11,"labelFont":"Liberation Sans","labelColor":"black","symbolSize":64,"rowPadding":5,"labelOffset":4}}}}
]},
{"width":277,"height":127,"layer":[
{"data":{"name":"curveDH"},"mark":{"type":"line","color":"black","strokeWidth":1.2,"interpolate":"monotone"},"encoding":{"x":{"field":"c","type":"quantitative","scale":{"type":"log","domain":[0.001,10.1],"nice":false},"axis":{"values":[0.001,0.01,0.1,1,10],"format":"~g","labelFlush":false,"labelPadding":3,"title":"Log [DHβE] (μM)","titlePadding":4}},"y":{"field":"v","type":"quantitative","scale":{"domain":[-0.042,1.023],"nice":false,"zero":false},"axis":{"values":[0,0.25,0.5,0.75,1],"format":".2f","tickSize":6,"labelPadding":3,"title":"Normalized peak","titlePadding":-5}},"detail":{"field":"g","type":"nominal"}}},
{"data":{"name":"ptsDH"},"mark":{"type":"rule","color":"black","strokeWidth":1},"encoding":{"x":{"field":"c","type":"quantitative"},"y":{"field":"lo","type":"quantitative"},"y2":{"field":"hi"}}},
{"data":{"name":"ptsDH"},"mark":{"type":"point","shape":"stroke","color":"black","size":64,"strokeWidth":1,"opacity":1},"encoding":{"x":{"field":"c","type":"quantitative"},"y":{"field":"lo","type":"quantitative"}}},
{"data":{"name":"ptsDH"},"mark":{"type":"point","shape":"stroke","color":"black","size":64,"strokeWidth":1,"opacity":1},"encoding":{"x":{"field":"c","type":"quantitative"},"y":{"field":"hi","type":"quantitative"}}},
{"data":{"name":"ptsDH"},"mark":{"type":"point","filled":true,"color":"black","size":70,"opacity":1},"encoding":{"x":{"field":"c","type":"quantitative"},"y":{"field":"v","type":"quantitative"},"shape":{"field":"g","type":"nominal","scale":{"domain":["MS/DB, n=8","VTA, n=7"],"range":["circle","square"]},"legend":{"title":null,"orient":"none","legendX":4.4,"legendY":82,"strokeColor":"#333","fillColor":"white","padding":5,"labelFontSize":12,"labelFont":"Liberation Sans","labelColor":"black","symbolSize":64,"rowPadding":5,"labelOffset":4}}}}
]}
]
}
